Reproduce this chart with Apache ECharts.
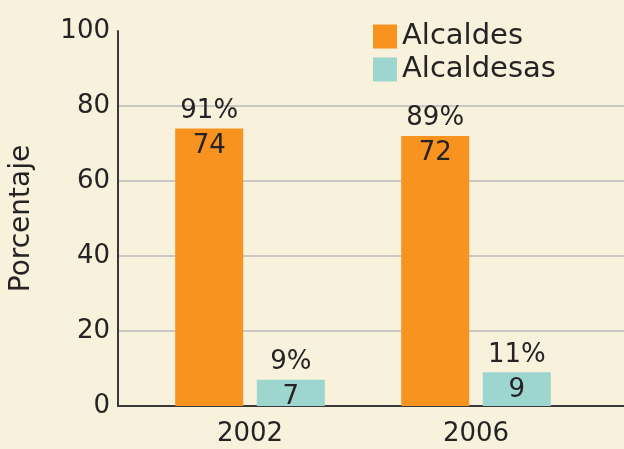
<!DOCTYPE html>
<html>
<head>
<meta charset="utf-8">
<script src="https://cdn.jsdelivr.net/npm/echarts@6/dist/echarts.min.js"></script>
<style>
  html, body { margin: 0; padding: 0; background: #f8f1dc; }
  #chart { width: 624px; height: 449px; }
</style>
</head>
<body>
<div id="chart"></div>
<script>
// datos
const years = ['2002', '2006']
const alcaldes = [74, 72]
const alcaldesas = [7, 9]
const pctAlcaldes = [91, 89]
const pctAlcaldesas = [9, 11]
const yTicks = [0, 20, 40, 60, 80, 100]

const font = 'DejaVu Sans'
const textColor = '#262324'

const chart = echarts.init(document.getElementById('chart'))

function barLabel(pcts) {
  return {
    show: true,
    position: 'top',
    distance: 0,
    offset: [0, 35],
    fontFamily: font,
    fontSize: 26,
    lineHeight: 35,
    color: textColor,
    formatter: (p) => pcts[p.dataIndex] + '%\n' + p.value
  }
}

const option = {
  backgroundColor: '#f8f1dc',
  animation: false,
  legend: {
    orient: 'vertical',
    left: 373,
    top: 22,
    padding: 0,
    itemWidth: 24,
    itemHeight: 24,
    itemGap: 4,
    icon: 'rect',
    textStyle: { fontFamily: font, fontSize: 29, color: textColor },
    data: ['Alcaldes', 'Alcaldesas']
  },
  grid: [
    // ejes y rejilla
    { left: 116, right: 0, top: 31, bottom: 43 },
    // barras
    { left: 137, right: 35, top: 31, bottom: 43 }
  ],
  xAxis: [
    {
      gridIndex: 0,
      type: 'value',
      min: 0,
      max: 1,
      axisLabel: { show: false },
      axisTick: { show: false },
      splitLine: { show: false },
      axisLine: { show: true, lineStyle: { color: '#3a3a3a', width: 2 } }
    },
    {
      gridIndex: 1,
      type: 'category',
      data: years,
      axisLine: { show: false },
      axisTick: { show: false },
      axisLabel: {
        margin: 15,
        fontFamily: font,
        fontSize: 26,
        color: textColor
      }
    }
  ],
  yAxis: [
    {
      gridIndex: 0,
      type: 'value',
      min: yTicks[0],
      max: yTicks[yTicks.length - 1],
      interval: yTicks[1] - yTicks[0],
      name: 'Porcentaje',
      nameLocation: 'middle',
      nameRotate: 90,
      nameGap: 82,
      nameTextStyle: { fontFamily: font, fontSize: 28, color: textColor },
      axisLine: { show: true, lineStyle: { color: '#3a3a3a', width: 2 } },
      axisTick: { show: false },
      axisLabel: {
        margin: 8,
        fontFamily: font,
        fontSize: 26,
        color: textColor
      },
      splitLine: {
        show: true,
        showMaxLine: false,
        lineStyle: { color: '#c9c7c2', width: 2 }
      }
    },
    {
      gridIndex: 1,
      type: 'value',
      min: 0,
      max: 100,
      show: false
    }
  ],
  series: [
    {
      name: 'Alcaldes',
      type: 'bar',
      xAxisIndex: 1,
      yAxisIndex: 1,
      barWidth: 68,
      barGap: '20%',
      itemStyle: { color: '#f7931e' },
      label: barLabel(pctAlcaldes),
      data: alcaldes
    },
    {
      name: 'Alcaldesas',
      type: 'bar',
      xAxisIndex: 1,
      yAxisIndex: 1,
      barWidth: 68,
      barGap: '20%',
      itemStyle: { color: '#9dd5cf' },
      label: barLabel(pctAlcaldesas),
      data: alcaldesas
    }
  ]
}

chart.setOption(option)
</script>
</body>
</html>
